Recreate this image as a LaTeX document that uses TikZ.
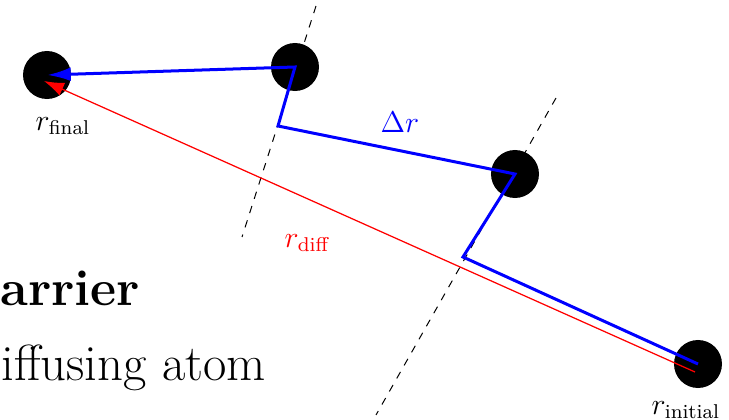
\documentclass[tikz,border=0pt]{standalone}
\usepackage{amsmath,amssymb}
\usetikzlibrary{positioning,arrows.meta}

\begin{document}
\begin{tikzpicture}[x=0.4pt,y=-0.4pt,
  atom/.style={circle,fill=black,minimum size=19.2pt,inner sep=0pt},
  hop/.style={blue,line width=1.2pt,line join=miter},
  plane/.style={dashed,line width=0.4pt},
  lbl/.style={font=\fontsize{12}{14}\selectfont,inner sep=0pt,anchor=base},
  big/.style={font=\fontsize{20.3}{24}\selectfont,inner sep=0pt,anchor=base west}]
\useasboundingbox (0,0) rectangle (729,420);
% atoms along the path
\node[atom] (fin) at (47,75) {};
\node[atom] (s1) at (295,67) {};
\node[atom] (s2) at (515,174) {};
\node[atom] (ini) at (698,364) {};
% saddle planes
\coordinate (pa1) at (316,6);
\coordinate (pa2) at (242,237);
\coordinate (pb1) at (556,98);
\coordinate (pb2) at (376,415);
\draw[plane] (pa1) -- (pa2);
\draw[plane] (pb1) -- (pb2);
% corners of the jumps
\coordinate (ka) at (278,126);
\coordinate (kb) at (463,257);
% net displacement
\coordinate (d0) at (695,372);
\coordinate (d1) at (44,81);
\draw[red,line width=0.5pt,-{Latex[length=8pt,width=5.5pt]}] (d0) -- (d1);
% jumps
\draw[hop,-{Latex[length=9.5pt,width=5.5pt]}] (ini.center) -- (kb) -- (s2.center) -- (ka) -- (s1.center) -- (fin.center);
% labels
\node[lbl] (lfin) at (63,130) {$r_{\text{final}}$};
\node[lbl] (lini) at (686,414) {$r_{\text{initial}}$};
\node[lbl,text=blue] (ldr) at (400,133) {$\Delta r$};
\node[lbl,text=red] (ldiff) at (307,247) {$r_{\text{diff}}$};
% slide text
\node[big,font=\fontsize{20.3}{24}\selectfont\bfseries] (barrier) at (0,305) {arrier};
\node[big] (atomtxt) at (1,380) {iffusing atom};
\end{tikzpicture}
\end{document}
